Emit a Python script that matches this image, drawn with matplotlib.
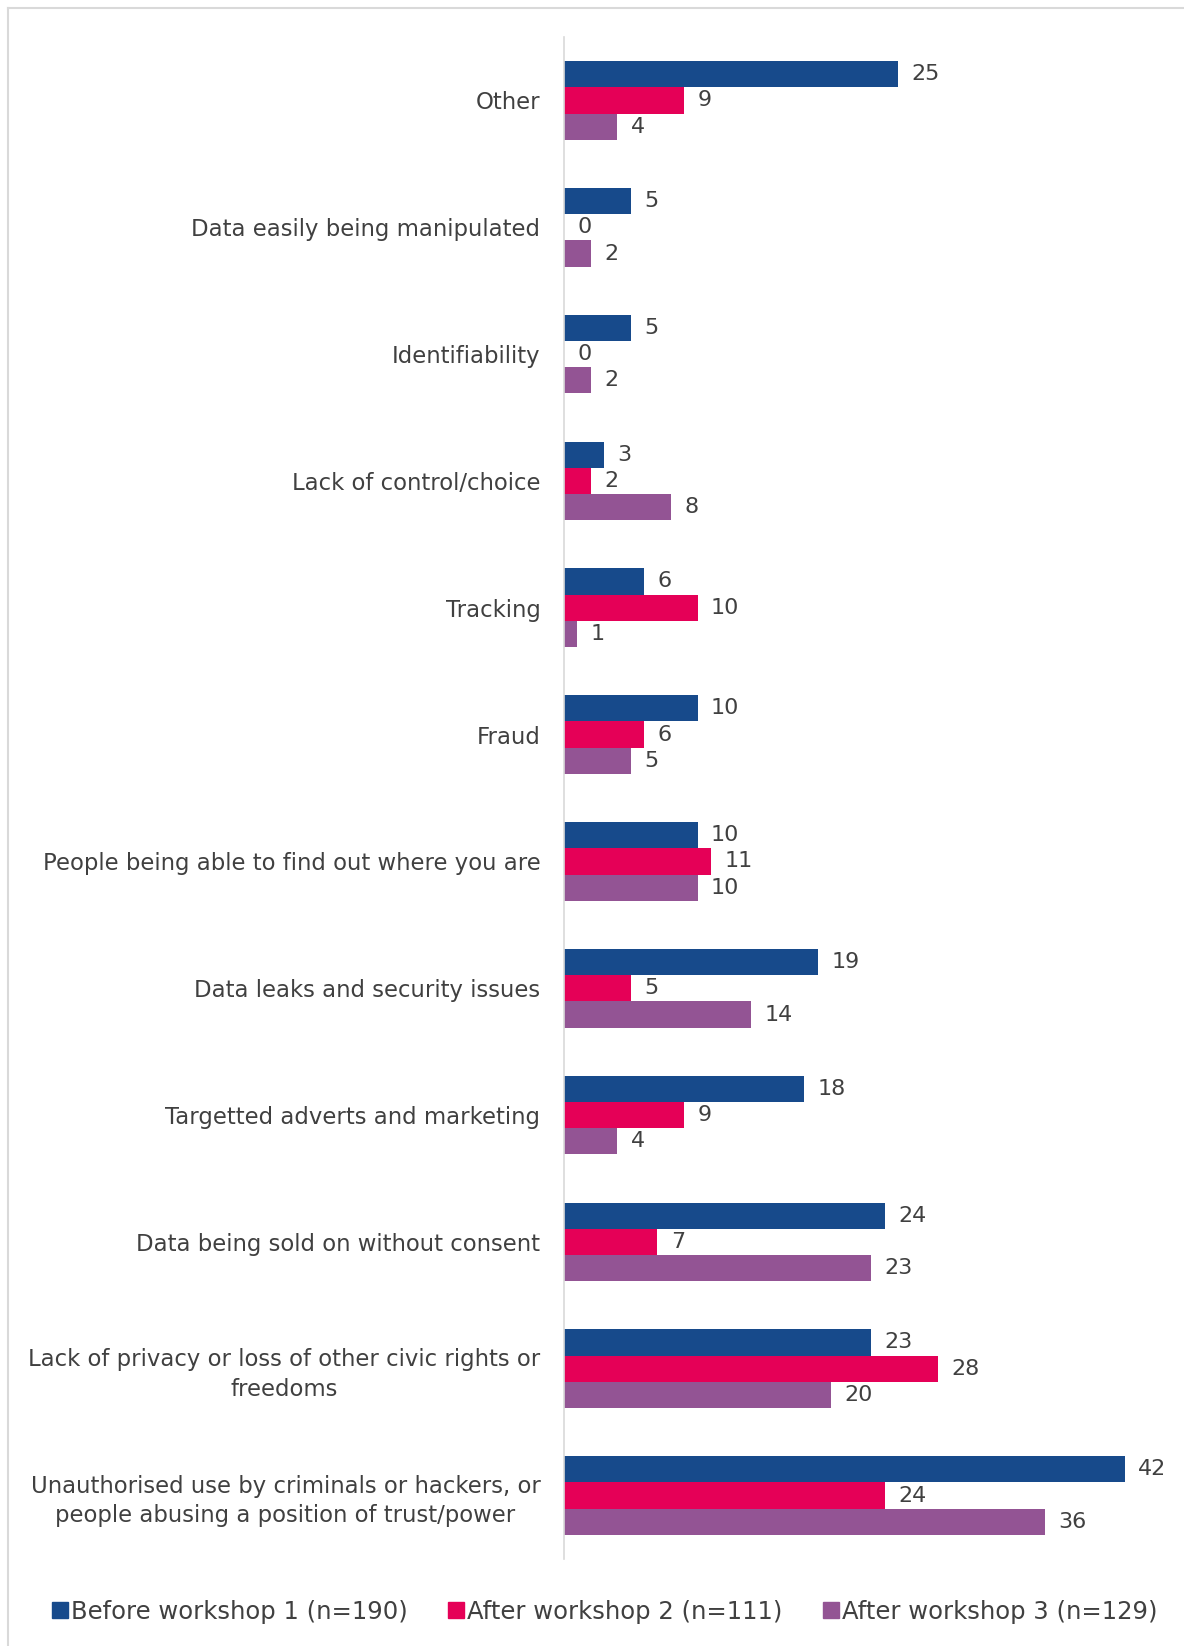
import numpy as np
import matplotlib
matplotlib.use('Agg')
import matplotlib.pyplot as plt
from matplotlib.lines import Line2D

# categories top to bottom
categories = [
    'Other',
    'Data easily being manipulated',
    'Identifiability',
    'Lack of control/choice',
    'Tracking',
    'Fraud',
    'People being able to find out where you are',
    'Data leaks and security issues',
    'Targetted adverts and marketing',
    'Data being sold on without consent',
    'Lack of privacy or loss of other civic rights or\nfreedoms',
    'Unauthorised use by criminals or hackers, or\npeople abusing a position of trust/power',
]
before_ws1 = [25, 5, 5, 3, 6, 10, 10, 19, 18, 24, 23, 42]
after_ws2 = [9, 0, 0, 2, 10, 6, 11, 5, 9, 7, 28, 24]
after_ws3 = [4, 2, 2, 8, 1, 5, 10, 14, 4, 23, 20, 36]
series_names = ['Before workshop 1 (n=190)', 'After workshop 2 (n=111)', 'After workshop 3 (n=129)']
colors = ['#174a8b', '#e50057', '#935494']

plt.rcParams['font.family'] = ['DejaVu Sans']
txt = '#404040'

W, H = 1184, 1646
fig = plt.figure(figsize=(W / 100, H / 100), dpi=100)
ax = fig.add_axes([564 / W, 1 - 1559 / H, 601 / W, (1559 - 37) / H])

y = np.arange(len(categories))
bh = 0.207
series = [before_ws1, after_ws2, after_ws3]
for i, (vals, c) in enumerate(zip(series, colors)):
    pos = y + (i - 1) * bh
    ax.barh(pos, vals, height=bh, color=c, label=series_names[i])
    for p, v in zip(pos, vals):
        ax.text(v + 1.0, p, str(v), va='center', ha='left', fontsize=16, color=txt, clip_on=False)

ax.set_ylim(len(categories) - 0.5, -0.5)
ax.set_xlim(0, 45)
ax.set_yticks(y)
ax.set_yticklabels(categories, fontsize=16.4, color=txt, multialignment='center', linespacing=1.35)
ax.tick_params(axis='y', length=0, pad=17)
ax.set_xticks([])
for s in ['top', 'right', 'bottom']:
    ax.spines[s].set_visible(False)
ax.spines['left'].set_color('#d9d9d9')
ax.spines['left'].set_linewidth(1.2)

# legend along the bottom
handles = [Line2D([], [], marker='s', linestyle='', markersize=11, color=c) for c in colors]
fig.legend(handles, series_names, loc='center', bbox_to_anchor=(0.51, 1 - 1612 / H), ncol=3,
           frameon=False, fontsize=17.5, labelcolor=txt, handletextpad=0.05, columnspacing=1.6,
           handlelength=0.8)

# outer frame lines
fig.add_artist(Line2D([8 / W, 1], [1 - 8 / H, 1 - 8 / H], color='#d9d9d9', lw=1.5))
fig.add_artist(Line2D([8 / W, 8 / W], [0, 1 - 8 / H], color='#d9d9d9', lw=1.5))

fig.savefig('out.png', dpi=100, facecolor='white')
